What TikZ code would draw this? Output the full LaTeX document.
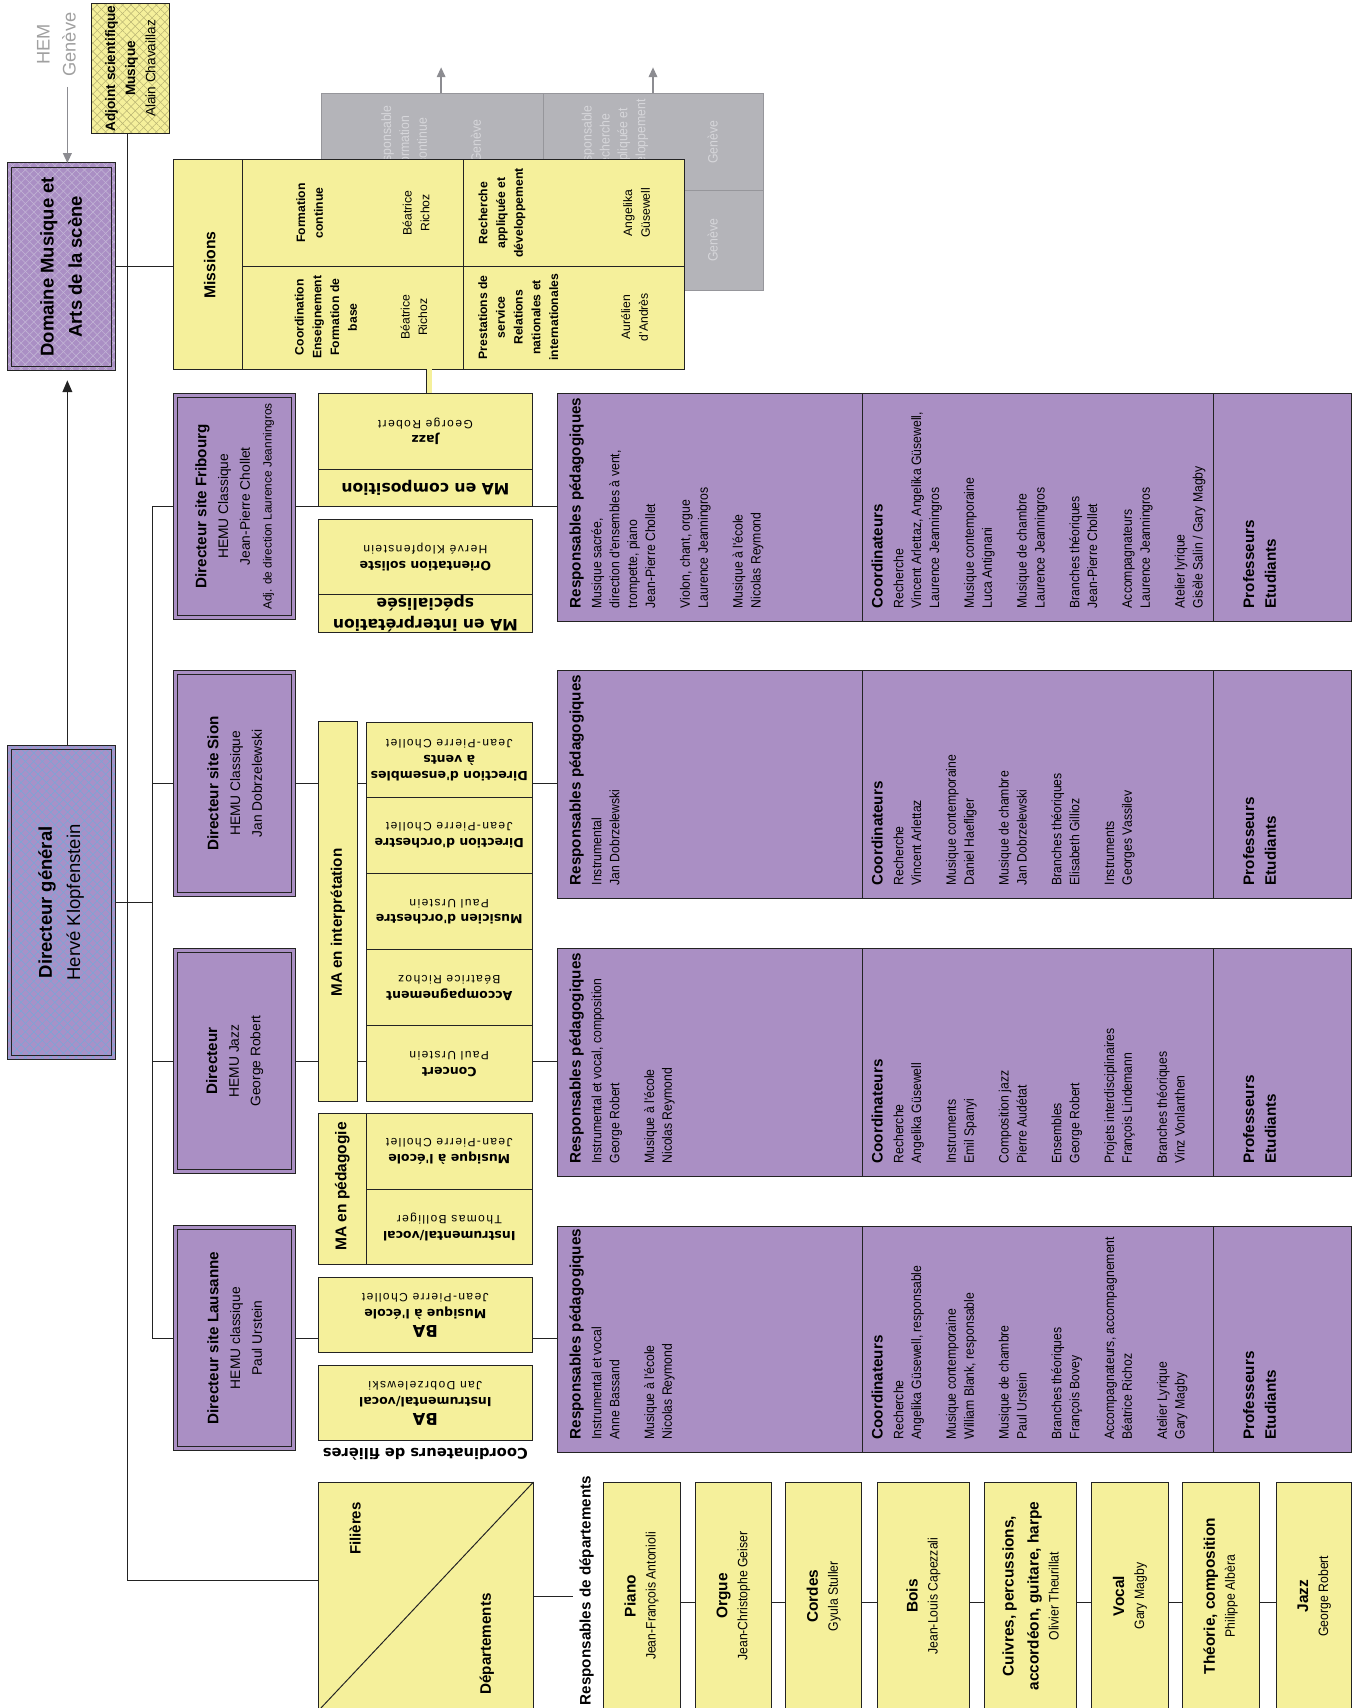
\documentclass[tikz,border=0pt]{standalone}
\usepackage{fontspec}
\setmainfont{Liberation Sans}
\newfontfamily\narfont[FakeStretch=0.9]{Liberation Sans}
\newfontfamily\dvsfont{DejaVu Sans}
\newfontfamily\lspfont[LetterSpace=12]{Liberation Sans}
\usetikzlibrary{patterns.meta,arrows.meta,calc}
\definecolor{yel}{RGB}{245,240,155}
\definecolor{pur}{RGB}{170,143,196}
\definecolor{gry}{RGB}{180,180,185}
\definecolor{gryl}{RGB}{150,150,155}
\definecolor{grytxt}{RGB}{214,214,218}
\definecolor{hemc}{RGB}{160,160,160}
\definecolor{garrc}{RGB}{140,140,145}
\definecolor{edge}{RGB}{35,35,35}
\definecolor{domh}{RGB}{195,182,214}
\definecolor{dgbase}{RGB}{168,145,200}
\definecolor{dgh}{RGB}{120,168,215}
\definecolor{adjh}{RGB}{185,180,115}
\newcommand\fbody{\fontsize{12.5}{16.5}\selectfont\narfont}
\newcommand\fdep{\fontsize{12.5}{18.4}\selectfont\narfont}
\newcommand\fhead{\fontsize{14}{16.5}\selectfont\rmfamily\bfseries}
\newcommand\fyb{\fontsize{11.5}{14.5}\selectfont\dvsfont\bfseries}
\newcommand\fyn{\fontsize{11}{14.5}\selectfont\lspfont}
\newcommand\fba{\fontsize{15}{14.5}\selectfont\dvsfont\bfseries}
\newcommand\fmis{\fontsize{11.2}{16.3}\selectfont}
\newcommand\fdb{\fontsize{14.2}{18.4}\selectfont\rmfamily\bfseries}
\newcommand\innerbox[1]{\draw[draw=edge, line width=0.8pt] ([shift={(3.7pt,-3.7pt)}]#1.north west) rectangle ([shift={(-3.7pt,3.7pt)}]#1.south east);}
\begin{document}
\begin{tikzpicture}[x=1pt,y=-1pt,
  box/.style={draw=edge, line width=0.9pt, inner sep=0pt, outer sep=0pt, anchor=north west},
  ybox/.style={box, fill=yel},
  pbox/.style={box, fill=pur},
  conn/.style={draw=edge, line width=0.9pt},
  rt/.style={rotate=90, inner sep=0pt, align=center},
  ud/.style={rotate=180, inner sep=0pt, align=center},
  blk/.style={rotate=90, inner sep=0pt, align=left, anchor=north west, font=\fbody},
  garr/.style={draw=garrc, line width=1.2pt, -{Triangle[length=9pt,width=8pt]}},
  hatchA/.style={pattern={Lines[angle=45,distance=5.5pt,line width=0.5pt]}, pattern color=#1},
  hatchB/.style={pattern={Lines[angle=-45,distance=5.5pt,line width=0.5pt]}, pattern color=#1}]
\useasboundingbox (0,0) rectangle (1245,1572);

% ---------- grey background (Genève) ----------
\node[box, fill=gry, draw=gryl, minimum width=407pt, minimum height=181pt] (gbg) at (296,86) {};
\coordinate (gx) at (500,0);
\coordinate (gy) at (0,175);
\draw[gryl, line width=0.9pt] (gx |- gbg.north) -- (gx |- gbg.south);
\draw[gryl, line width=0.9pt] (gbg.west |- gy) -- (gbg.east |- gy);
\node[rt, text=grytxt, font=\fbody] (gt1) at (372,130) {Responsable\\formation\\continue};
\node[rt, text=grytxt, font=\fbody] (gt2) at (438,130) {Genève};
\node[rt, text=grytxt, font=\fbody] (gt3) at (566,130) {Responsable\\recherche\\appliquée et\\développement};
\node[rt, text=grytxt, font=\fbody] (gt4) at (656,131) {Genève};
\node[rt, text=grytxt, font=\fbody] (gt5) at (656,221) {Genève};
\coordinate (ga1) at (406,62);
\coordinate (ga2) at (601,62);
\draw[garr] (ga1 |- gbg.north) -- (ga1);
\draw[garr] (ga2 |- gbg.north) -- (ga2);

% ---------- top left ----------
\node[rt, text=hemc, font=\fontsize{16.8}{24}\selectfont] (hem) at (52,41) {HEM\\Genève};
\node[box, minimum width=72pt, minimum height=120pt, preaction={fill=yel}, preaction={hatchA=adjh}, preaction={hatchB=adjh}] (adj) at (84,3) {};
\node[rt, font=\fontsize{12.5}{18.5}\selectfont] (adjt) at (adj.center) {\textbf{Adjoint scientifique}\\\textbf{Musique}\\Alain Chavaillaz};

\node[box, minimum width=99.5pt, minimum height=191pt, preaction={fill=pur}, preaction={hatchA=domh}, preaction={hatchB=domh}] (dom) at (6.5,150) {};
\innerbox{dom}
\node[rt, font=\fontsize{17}{26}\selectfont\bfseries] (domt) at (dom.center) {Domaine Musique et\\Arts de la scène};

\node[box, minimum width=99.5pt, minimum height=289pt, preaction={fill=dgbase}, preaction={hatchA=dgh}, preaction={hatchB=dgh}] (dg) at (6.5,686) {};
\innerbox{dg}
\node[rt, font=\fontsize{17}{26}\selectfont] (dgt) at (dg.center) {\textbf{Directeur général}\\Hervé Klopfenstein};

\coordinate (hg) at (62,80);
\draw[garr] (hg) -- (hg |- dom.north);
\coordinate (ax) at (62,0);
\draw[draw=edge, line width=1.4pt, -{Triangle[length=11pt,width=9pt]}, shorten >=9pt] (ax |- dg.north) -- (ax |- dom.south);

% ---------- Missions ----------
\node[ybox, minimum width=470pt, minimum height=193pt] (mis) at (160,147) {};
\coordinate (m1) at (223,0);
\coordinate (m2) at (427,0);
\coordinate (m3) at (0,245);
\draw[conn] (m1 |- mis.north) -- (m1 |- mis.south);
\draw[conn] (m2 |- mis.north) -- (m2 |- mis.south);
\draw[conn] (m1 |- m3) -- (mis.east |- m3);
\node[rt, font=\fontsize{14.5}{16}\selectfont\bfseries] (mist) at (193,244) {Missions};
\node[rt, font=\fmis\bfseries] (mc1) at (285,196) {Formation\\continue};
\node[rt, font=\fmis] (mc2) at (383,196) {Béatrice\\Richoz};
\node[rt, font=\fmis\bfseries] (mc3) at (300,292) {Coordination\\Enseignement\\Formation de\\base};
\node[rt, font=\fmis] (mc4) at (381,292) {Béatrice\\Richoz};
\node[rt, font=\fmis\bfseries] (mc5) at (462,196) {Recherche\\appliquée et\\développement};
\node[rt, font=\fmis] (mc6) at (586,196) {Angelika\\Güsewell};
\node[rt, font=\fmis\bfseries] (mc7) at (477,292) {Prestations de\\service\\Relations\\nationales et\\internationales};
\node[rt, font=\fmis] (mc8) at (584,292) {Aurélien\\d'Andrès};

% ---------- directors ----------
\node[pbox, minimum width=112pt, minimum height=208pt] (fri) at (160,362) {};
\node[pbox, minimum width=112pt, minimum height=208pt] (sio) at (160,617) {};
\node[pbox, minimum width=112pt, minimum height=207pt] (jzd) at (160,873) {};
\node[pbox, minimum width=112pt, minimum height=207pt] (lau) at (160,1128) {};

% ---------- purple columns ----------
\foreach \r/\y/\h in {f/362/210, s/617/210, j/873/210, l/1129/208}{
  \node[pbox, minimum width=281pt, minimum height=\h pt] (\r res) at (513,\y) {};
  \node[pbox, minimum width=323pt, minimum height=\h pt] (\r coo) at (794,\y) {};
  \node[pbox, minimum width=127pt, minimum height=\h pt] (\r pro) at (1117,\y) {};
}

% ---------- connectors ----------
\coordinate (tx) at (117,0);
\coordinate (fili) at (293.5,1455);
\draw[conn] (tx |- adj.south) |- (fili);
\draw[conn] (dom.east) -- (dom.east -| mis.west);
\coordinate (bx) at (140,0);
\draw[conn] (dg.east) -- (dg.east -| bx);
\draw[conn] (bx |- fri.west) -- (bx |- lau.west);
\foreach \n in {fri,sio,jzd,lau} \draw[conn] (bx |- \n.west) -- (\n.west);
\draw[conn] (fri.east) -- (fri.east -| fres.west);
\draw[conn] (sio.east) -- (sio.east -| sres.west);
\draw[conn] (jzd.east) -- (jzd.east -| jres.west);
\draw[conn] (lau.east) -- (lau.east -| lres.west);

% redraw director boxes over connectors
\foreach \n in {fri,sio,jzd,lau}{\draw[edge, line width=0.9pt, fill=pur] (\n.north west) rectangle (\n.south east); \innerbox{\n}}

\node[rt, font=\fontsize{12.7}{20}\selectfont] (frit) at (fri.center) {{\fontsize{14}{20}\selectfont\bfseries Directeur site Fribourg}\\HEMU Classique\\Jean-Pierre Chollet\\{\fontsize{10.9}{20}\selectfont Adj. de direction Laurence Jeanningros}};
\node[rt, font=\fontsize{12.7}{20}\selectfont] (siot) at (sio.center) {{\fontsize{14}{20}\selectfont\bfseries Directeur site Sion}\\HEMU Classique\\Jan Dobrzelewski};
\node[rt, font=\fontsize{12.7}{20}\selectfont] (jzdt) at (jzd.center) {{\fontsize{14}{20}\selectfont\bfseries Directeur}\\HEMU Jazz\\George Robert};
\node[rt, font=\fontsize{12.7}{20}\selectfont] (laut) at (lau.center) {{\fontsize{14}{20}\selectfont\bfseries Directeur site Lausanne}\\HEMU classique\\Paul Urstein};

% ---------- Fribourg yellow ----------
\node[ybox, minimum width=197pt, minimum height=70pt] (fjz) at (293,362) {};
\node[ybox, minimum width=197pt, minimum height=34pt] (fmac) at (293,432) {};
\node[ybox, minimum width=197pt, minimum height=69pt] (fori) at (293,478) {};
\node[ybox, minimum width=197pt, minimum height=35pt] (fmai) at (293,547) {};
\draw[draw=edge, line width=0.8pt, double=yel, double distance=4.5pt] (mis.south) -- (mis.south |- fjz.north);
\node[ud, font=\fontsize{11}{14.5}\selectfont] (fjzt) at (fjz.center) {{\fyb Jazz}\\{\fyn George Robert}};
\node[ud, font=\fontsize{14.4}{19}\selectfont\dvsfont\bfseries] (fmact) at (fmac.center) {MA en composition};
\node[ud, font=\fontsize{11}{14.5}\selectfont] (forit) at (fori.center) {{\fyb Orientation soliste}\\{\fyn Hervé Klopfenstein}};
\node[ud, font=\fontsize{14.4}{19}\selectfont\dvsfont\bfseries] (fmait) at (fmai.center) {MA en interprétation\\spécialisée};

% ---------- MA en interprétation ----------
\node[ybox, minimum width=36pt, minimum height=350pt] (mai) at (293,664) {};
\node[rt, font=\fontsize{14}{16}\selectfont\bfseries] (mait) at (311,849) {MA en interprétation};
\node[ybox, minimum width=153pt, minimum height=69pt] (ide) at (337,665) {};
\node[ybox, minimum width=153pt, minimum height=70pt] (ido) at (337,734) {};
\node[ybox, minimum width=153pt, minimum height=70pt] (imo) at (337,804) {};
\node[ybox, minimum width=153pt, minimum height=70pt] (iac) at (337,874) {};
\node[ybox, minimum width=153pt, minimum height=70pt] (ico) at (337,944) {};
\node[ud, font=\fontsize{11}{14.5}\selectfont] (idet) at (ide.center) {{\fyb Direction d'ensembles}\\{\fyb à vents}\\{\fyn Jean-Pierre Chollet}};
\node[ud, font=\fontsize{11}{14.5}\selectfont] (idot) at (ido.center) {{\fyb Direction d'orchestre}\\{\fyn Jean-Pierre Chollet}};
\node[ud, font=\fontsize{11}{14.5}\selectfont] (imot) at (imo.center) {{\fyb Musicien d'orchestre}\\{\fyn Paul Urstein}};
\node[ud, font=\fontsize{11}{14.5}\selectfont] (iact) at (iac.center) {{\fyb Accompagnement}\\{\fyn Béatrice Richoz}};
\node[ud, font=\fontsize{11}{14.5}\selectfont] (icot) at (ico.center) {{\fyb Concert}\\{\fyn Paul Urstein}};

% ---------- MA en pédagogie ----------
\node[ybox, minimum width=44pt, minimum height=139pt] (mpl) at (293,1025) {};
\node[ybox, minimum width=153pt, minimum height=70pt] (pme) at (337,1025) {};
\node[ybox, minimum width=153pt, minimum height=69pt] (piv) at (337,1095) {};
\node[rt, font=\fontsize{14.3}{16}\selectfont\bfseries] (mplt) at (315,1092) {MA en pédagogie};
\node[ud, font=\fontsize{11}{14.5}\selectfont] (pmet) at (pme.center) {{\fyb Musique à l'école}\\{\fyn Jean-Pierre Chollet}};
\node[ud, font=\fontsize{11}{14.5}\selectfont] (pivt) at (piv.center) {{\fyb Instrumental/vocal}\\{\fyn Thomas Bolliger}};

% ---------- BA ----------
\node[ybox, minimum width=197pt, minimum height=69pt] (ba1) at (293,1176) {};
\node[ybox, minimum width=197pt, minimum height=69pt] (ba2) at (293,1257) {};
\node[ud, font=\fontsize{11}{14.5}\selectfont] (ba1t) at (ba1.center) {{\fba BA}\\{\fyb Musique à l'école}\\{\fyn Jean-Pierre Chollet}};
\node[ud, font=\fontsize{11}{14.5}\selectfont] (ba2t) at (ba2.center) {{\fba BA}\\{\fyb Instrumental/vocal}\\{\fyn Jan Dobrzelewski}};
\node[ud, font=\fontsize{13.5}{15}\selectfont\dvsfont\bfseries] (cdf) at (391.5,1338) {Coordinateurs de filières};

% ---------- purple texts ----------
\node[blk] (frest) at (524,560) {{\fhead Responsables pédagogiques}\\[2.5pt]Musique sacrée,\\direction d'ensembles à vent,\\trompette, piano\\Jean-Pierre Chollet\\[15.5pt]Violon, chant, orgue\\Laurence Jeanningros\\[15.5pt]Musique à l'école\\Nicolas Reymond};
\node[blk] (fcoot) at (802,560) {{\fhead Coordinateurs}\\[2.5pt]Recherche\\Vincent Arlettaz, Angelika Güsewell,\\Laurence Jeanningros\\[15.5pt]Musique contemporaine\\Luca Antignani\\[15.5pt]Musique de chambre\\Laurence Jeanningros\\[15.5pt]Branches théoriques\\Jean-Pierre Chollet\\[15.5pt]Accompagnateurs\\Laurence Jeanningros\\[15.5pt]Atelier lyrique\\Gisèle Salin / Gary Magby};
\node[blk] (srest) at (524,815) {{\fhead Responsables pédagogiques}\\[2.5pt]Instrumental\\Jan Dobrzelewski};
\node[blk] (scoot) at (802,815) {{\fhead Coordinateurs}\\[2.5pt]Recherche\\Vincent Arlettaz\\[15.5pt]Musique contemporaine\\Daniel Haefliger\\[15.5pt]Musique de chambre\\Jan Dobrzelewski\\[15.5pt]Branches théoriques\\Elisabeth Gillioz\\[15.5pt]Instruments\\Georges Vassilev};
\node[blk] (jrest) at (524,1071) {{\fhead Responsables pédagogiques}\\[2.5pt]Instrumental et vocal, composition\\George Robert\\[15.5pt]Musique à l'école\\Nicolas Reymond};
\node[blk] (jcoot) at (802,1071) {{\fhead Coordinateurs}\\[2.5pt]Recherche\\Angelika Güsewell\\[15.5pt]Instruments\\Emil Spanyi\\[15.5pt]Composition jazz\\Pierre Audétat\\[15.5pt]Ensembles\\George Robert\\[15.5pt]Projets interdisciplinaires\\François Lindemann\\[15.5pt]Branches théoriques\\Vinz Vonlanthen};
\node[blk] (lrest) at (524,1325) {{\fhead Responsables pédagogiques}\\[2.5pt]Instrumental et vocal\\Anne Bassand\\[15.5pt]Musique à l'école\\Nicolas Reymond};
\node[blk] (lcoot) at (802,1325) {{\fhead Coordinateurs}\\[2.5pt]Recherche\\Angelika Güsewell, responsable\\[15.5pt]Musique contemporaine\\William Blank, responsable\\[15.5pt]Musique de chambre\\Paul Urstein\\[15.5pt]Branches théoriques\\François Bovey\\[15.5pt]Accompagnateurs, accompagnement\\Béatrice Richoz\\[15.5pt]Atelier Lyrique\\Gary Magby};
\foreach \r/\yb in {f/560, s/815, j/1071, l/1325}{
  \node[blk] (\r prot) at (1144,\yb) {{\fhead Professeurs}\\[3.5pt]{\fhead Etudiants}};
}

% ---------- bottom: filières / départements ----------
\node[ybox, minimum width=197.5pt, minimum height=210pt] (fil) at (293.5,1364) {};
\draw[conn] (fil.south west) -- (fil.north east);
\node[rt, font=\fontsize{13.8}{16}\selectfont\bfseries] (filt) at (327,1407) {Filières};
\node[rt, font=\fontsize{14}{16}\selectfont\bfseries] (dept) at (448,1513) {Départements};
\coordinate (filr) at (527,1469);
\draw[conn] (fil.east |- filr) -- (filr);
\node[rt, font=\fontsize{14}{16}\selectfont\bfseries] (rdep) at (540,1464) {Responsables de départements};

\foreach \n/\x/\w in {dpi/555/71, dor/640/70, dco/723/70, dbo/808/84, dcu/906/85, dvo/1005/70, dth/1088/71, djz/1175/69}{
  \node[ybox, minimum width=\w pt, minimum height=210pt] (\n) at (\x,1364) {};
}
\coordinate (dly) at (0,1475);
\foreach \a/\b in {dpi/dor, dor/dco, dco/dbo, dbo/dcu, dcu/dvo, dvo/dth, dth/djz}{
  \draw[conn] (\a.east |- dly) -- (\b.west |- dly);
}
\node[rt, font=\fdep] (dpit) at (dpi.center) {{\fdb Piano}\\Jean-François Antonioli};
\node[rt, font=\fdep] (dort) at (dor.center) {{\fdb Orgue}\\Jean-Christophe Geiser};
\node[rt, font=\fdep] (dcot) at (dco.center) {{\fdb Cordes}\\Gyula Stuller};
\node[rt, font=\fdep] (dbot) at (dbo.center) {{\fdb Bois}\\Jean-Louis Capezzali};
\node[rt, font=\fdep] (dcut) at (dcu.center) {{\fdb Cuivres, percussions,}\\[4.5pt]{\fdb accordéon, guitare, harpe}\\Olivier Theurillat};
\node[rt, font=\fdep] (dvot) at (dvo.center) {{\fdb Vocal}\\Gary Magby};
\node[rt, font=\fdep] (dtht) at (dth.center) {{\fdb Théorie, composition}\\Philippe Albèra};
\node[rt, font=\fdep] (djzt) at (djz.center) {{\fdb Jazz}\\George Robert};
\end{tikzpicture}
\end{document}
